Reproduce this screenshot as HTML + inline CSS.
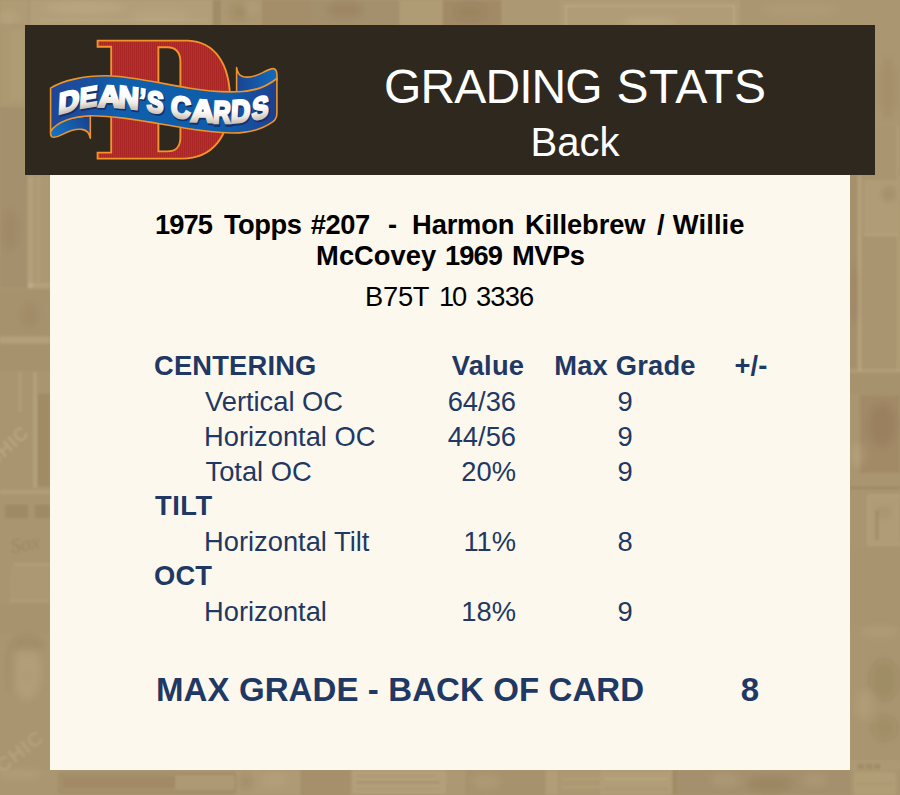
<!DOCTYPE html>
<html>
<head>
<meta charset="utf-8">
<title>Grading Stats</title>
<style>
html,body{margin:0;padding:0;}
body{width:900px;height:795px;position:relative;overflow:hidden;background:#a9946f;font-family:"Liberation Sans",sans-serif;}
#bg{position:absolute;left:0;top:0;width:900px;height:795px;}
#hdr{position:absolute;left:25px;top:25px;width:850px;height:150px;background:#2e281f;}
#panel{position:absolute;left:50px;top:175px;width:800px;height:595px;background:#fdf8ed;}
.t{position:absolute;white-space:nowrap;line-height:1;}
.h1{top:63px;font-size:48px;color:#fff;}
#h2{left:300px;width:550px;text-align:center;top:122px;font-size:40px;color:#fff;}
#title{position:absolute;left:0;top:0;font-weight:bold;font-size:27.3px;color:#000;}
#title span{position:absolute;white-space:nowrap;line-height:32px;}
.sku{top:283px;font-size:27.3px;color:#000;}
.n{color:#1f3864;font-size:27.3px;}
.b{font-weight:bold;letter-spacing:.2px;}
.r{text-align:right;}
.c{text-align:center;}
#max{font-size:33px;font-weight:bold;color:#1f3864;letter-spacing:.1px;}
</style>
</head>
<body>
<svg id="bg" width="900" height="795" viewBox="0 0 900 795" style="position:absolute;left:0;top:0;"><defs><filter id="sb" x="-5%" y="-5%" width="110%" height="110%"><feGaussianBlur stdDeviation="0.8"/></filter><filter id="sb2" x="-5%" y="-5%" width="110%" height="110%"><feGaussianBlur stdDeviation="3.5"/></filter></defs><rect width="900" height="795" fill="#a9956f"/><g filter="url(#sb)"><rect x="0" y="0" width="28" height="24" fill="rgba(255,240,205,0.07)" rx="0"/><rect x="30" y="0" width="182" height="26" fill="rgba(255,240,205,0.1)" rx="0"/><rect x="40" y="19" width="168" height="1.5" fill="rgba(255,240,205,0.1)" rx="0"/><rect x="213" y="0" width="8" height="26" fill="rgba(70,48,12,0.09)" rx="0"/><rect x="221" y="0" width="40" height="26" fill="rgba(255,240,205,0.02)" rx="0"/><rect x="262" y="0" width="48" height="26" fill="rgba(70,48,12,0.05)" rx="0"/><rect x="310" y="0" width="90" height="26" fill="rgba(70,48,12,0.03)" rx="0"/><rect x="400" y="0" width="42" height="26" fill="rgba(255,240,205,0.07)" rx="0"/><rect x="442" y="0" width="60" height="26" fill="rgba(70,48,12,0.07)" rx="0"/><rect x="502" y="0" width="58" height="26" fill="rgba(255,240,205,0.04)" rx="0"/><rect x="560" y="0" width="180" height="26" fill="rgba(255,240,205,0.08)" rx="0"/><rect x="566" y="6" width="168" height="40" fill="none" stroke="rgba(255,240,205,0.14)" stroke-width="2"/><rect x="740" y="0" width="160" height="26" fill="rgba(255,240,205,0.01)" rx="0"/><rect x="0" y="26" width="25" height="80" fill="rgba(255,240,205,0.03)" rx="0"/><rect x="10" y="30" width="14" height="70" fill="rgba(255,240,205,0.04)" rx="0"/><rect x="0" y="106" width="25" height="70" fill="rgba(70,48,12,0.03)" rx="0"/><rect x="0" y="176" width="28" height="112" fill="rgba(70,48,12,0.03)" rx="0"/><rect x="28" y="176" width="5" height="112" fill="rgba(255,240,205,0.13)" rx="0"/><rect x="28" y="283" width="22" height="5" fill="rgba(255,240,205,0.13)" rx="0"/><rect x="33" y="176" width="17" height="107" fill="rgba(255,240,205,0.04)" rx="0"/><rect x="37" y="176" width="3" height="107" fill="rgba(255,240,205,0.06)" rx="0"/><rect x="0" y="290" width="50" height="45" fill="rgba(70,48,12,0.02)" rx="0"/><rect x="0" y="337" width="50" height="6" fill="rgba(255,240,205,0.13)" rx="0"/><rect x="0" y="345" width="50" height="26" fill="rgba(70,48,12,0.02)" rx="0"/><rect x="18" y="372" width="4" height="40" fill="rgba(255,240,205,0.08)" rx="0"/><rect x="33" y="372" width="4" height="116" fill="rgba(255,240,205,0.12)" rx="0"/><rect x="37" y="394" width="13" height="92" fill="rgba(70,48,12,0.1)" rx="0"/><rect x="0" y="490" width="50" height="4" fill="rgba(255,240,205,0.1)" rx="0"/><rect x="5" y="505" width="23" height="13" fill="rgba(70,48,12,0.11)" rx="2"/><rect x="35" y="505" width="15" height="13" fill="rgba(70,48,12,0.11)" rx="2"/><rect x="14" y="563" width="36" height="3" fill="rgba(255,240,205,0.1)" rx="0"/><rect x="10" y="567" width="40" height="33" fill="rgba(255,240,205,0.04)" rx="0"/><rect x="10" y="600" width="40" height="2" fill="rgba(255,240,205,0.09)" rx="0"/><rect x="0" y="604" width="50" height="30" fill="rgba(70,48,12,0.01)" rx="0"/><rect x="875" y="26" width="25" height="100" fill="rgba(255,240,205,0.01)" rx="0"/><rect x="896" y="125" width="3" height="50" fill="rgba(255,240,205,0.08)" rx="0"/><rect x="850" y="176" width="8" height="195" fill="rgba(70,48,12,0.04)" rx="0"/><rect x="858" y="176" width="3.5" height="195" fill="rgba(255,240,205,0.14)" rx="0"/><rect x="864" y="180" width="33" height="55" fill="rgba(255,240,205,0.08)" rx="0"/><rect x="864" y="234" width="34" height="2" fill="rgba(255,240,205,0.12)" rx="0"/><rect x="897" y="176" width="3" height="195" fill="rgba(255,240,205,0.09)" rx="0"/><rect x="850" y="369" width="50" height="3" fill="rgba(255,240,205,0.1)" rx="0"/><rect x="850" y="374" width="50" height="20" fill="rgba(70,48,12,0.02)" rx="0"/><rect x="860" y="395" width="40" height="78" fill="rgba(70,48,12,0.07)" rx="0"/><rect x="850" y="487" width="50" height="1.5" fill="rgba(70,48,12,0.14)" rx="0"/><rect x="868" y="495" width="32" height="50" fill="rgba(255,240,205,0.08)" rx="0"/><rect x="868" y="495" width="40" height="50" fill="none" stroke="rgba(255,240,205,0.1)" stroke-width="1.5"/><rect x="875" y="510" width="4" height="30" fill="rgba(70,48,12,0.12)" rx="0"/><rect x="850" y="546" width="50" height="80" fill="rgba(70,48,12,0.005)" rx="0"/><rect x="850" y="760" width="50" height="10" fill="rgba(255,240,205,0.05)" rx="0"/><rect x="0" y="770" width="55" height="25" fill="rgba(255,240,205,0.01)" rx="0"/><rect x="60" y="774" width="176" height="18" fill="none" stroke="rgba(70,48,12,0.09)" stroke-width="2"/><rect x="62" y="776" width="114" height="13" fill="rgba(70,48,12,0.07)" rx="0"/><rect x="176" y="776" width="58" height="13" fill="rgba(255,240,205,0.05)" rx="0"/><rect x="236" y="770" width="64" height="25" fill="rgba(255,240,205,0.06)" rx="0"/><rect x="300" y="770" width="50" height="25" fill="rgba(70,48,12,0.04)" rx="0"/><rect x="352" y="770" width="94" height="24" fill="rgba(255,240,205,0.12)" rx="0"/><rect x="356" y="775" width="80" height="2" fill="rgba(70,48,12,0.09)" rx="0"/><rect x="356" y="781" width="84" height="3" fill="rgba(70,48,12,0.11)" rx="0"/><rect x="356" y="788" width="84" height="1.5" fill="rgba(70,48,12,0.09)" rx="0"/><rect x="446" y="770" width="18" height="25" fill="rgba(255,240,205,0.04)" rx="0"/><rect x="466" y="770" width="80" height="25" fill="rgba(70,48,12,0.02)" rx="0"/><rect x="546" y="770" width="12" height="25" fill="rgba(255,240,205,0.09)" rx="0"/><rect x="560" y="770" width="40" height="25" fill="rgba(255,240,205,0.03)" rx="0"/><rect x="562" y="778" width="38" height="2" fill="rgba(255,240,205,0.09)" rx="0"/><rect x="562" y="786" width="38" height="2" fill="rgba(255,240,205,0.09)" rx="0"/><rect x="600" y="770" width="72" height="25" fill="rgba(255,240,205,0.09)" rx="0"/><rect x="604" y="778" width="64" height="2" fill="rgba(255,240,205,0.09)" rx="0"/><rect x="604" y="788" width="64" height="2" fill="rgba(70,48,12,0.05)" rx="0"/><rect x="672" y="770" width="4" height="25" fill="rgba(70,48,12,0.11)" rx="0"/><rect x="676" y="770" width="174" height="25" fill="rgba(70,48,12,0.03)" rx="0"/><rect x="854" y="772" width="42" height="23" fill="rgba(255,240,205,0.09)" rx="0"/><rect x="856" y="783" width="38" height="1.5" fill="rgba(70,48,12,0.08)" rx="0"/></g><g filter="url(#sb2)"><ellipse cx="8" cy="18" rx="10" ry="6" fill="rgba(255,240,205,0.08)"/><ellipse cx="85" cy="8" rx="40" ry="6" fill="rgba(255,240,205,0.09)"/><ellipse cx="160" cy="16" rx="30" ry="6" fill="rgba(255,240,205,0.06)"/><ellipse cx="240" cy="12" rx="9" ry="8" fill="rgba(70,48,12,0.1)"/><ellipse cx="252" cy="8" rx="6" ry="6" fill="rgba(255,240,205,0.08)"/><ellipse cx="345" cy="10" rx="18" ry="8" fill="rgba(70,48,12,0.07)"/><ellipse cx="470" cy="12" rx="15" ry="9" fill="rgba(70,48,12,0.08)"/><ellipse cx="650" cy="23" rx="28" ry="6" fill="rgba(255,240,205,0.1)"/><ellipse cx="800" cy="10" rx="40" ry="7" fill="rgba(255,240,205,0.05)"/><ellipse cx="10" cy="230" rx="8" ry="20" fill="rgba(70,48,12,0.05)"/><ellipse cx="30" cy="315" rx="8" ry="12" fill="rgba(70,48,12,0.05)"/><ellipse cx="27" cy="672" rx="14" ry="28" fill="rgba(255,240,205,0.1)"/><ellipse cx="27" cy="645" rx="15" ry="8" fill="rgba(70,48,12,0.1)"/><ellipse cx="12" cy="670" rx="4" ry="22" fill="rgba(70,48,12,0.07)"/><ellipse cx="28" cy="676" rx="5" ry="3" fill="rgba(70,48,12,0.05)"/><ellipse cx="888" cy="88" rx="7" ry="30" fill="rgba(70,48,12,0.06)"/><ellipse cx="854" cy="295" rx="4" ry="30" fill="rgba(70,48,12,0.06)"/><ellipse cx="889" cy="194" rx="5" ry="6" fill="rgba(70,48,12,0.16)"/><ellipse cx="882" cy="425" rx="14" ry="22" fill="rgba(70,48,12,0.07)"/><ellipse cx="858" cy="455" rx="8" ry="12" fill="rgba(255,240,205,0.1)"/><ellipse cx="884" cy="512" rx="6" ry="4" fill="rgba(70,48,12,0.1)"/><ellipse cx="880" cy="632" rx="18" ry="5" fill="rgba(255,240,205,0.08)"/><ellipse cx="884" cy="680" rx="14" ry="20" fill="rgba(70,48,12,0.09)"/><ellipse cx="885" cy="728" rx="12" ry="12" fill="rgba(70,48,12,0.08)"/><ellipse cx="864" cy="705" rx="9" ry="14" fill="rgba(255,240,205,0.08)"/><ellipse cx="20" cy="774" rx="22" ry="4" fill="rgba(255,240,205,0.09)"/><ellipse cx="246" cy="782" rx="5" ry="8" fill="rgba(70,48,12,0.12)"/><ellipse cx="275" cy="780" rx="12" ry="7" fill="rgba(255,240,205,0.06)"/><ellipse cx="486" cy="782" rx="14" ry="8" fill="rgba(255,240,205,0.08)"/><ellipse cx="770" cy="784" rx="22" ry="7" fill="rgba(70,48,12,0.11)"/><ellipse cx="725" cy="780" rx="14" ry="7" fill="rgba(255,240,205,0.08)"/><ellipse cx="815" cy="780" rx="12" ry="7" fill="rgba(255,240,205,0.07)"/></g><g filter="url(#sb)" font-family="Liberation Sans, sans-serif"><text transform="translate(-7,468) rotate(-42)" font-size="19" fill="rgba(255,240,205,0.17)" font-weight="bold" letter-spacing="1">CHIC</text><text transform="translate(12,553) rotate(-10)" font-size="20" fill="rgba(70,48,12,0.09)" font-style="italic" font-family="Liberation Serif, serif">Sox</text><text transform="translate(2,774) rotate(-38)" font-size="21" fill="rgba(255,240,205,0.13)" font-weight="bold" letter-spacing="1">CHIC</text><text transform="translate(858,769) rotate(0)" font-size="8" fill="rgba(70,48,12,0.22)" font-weight="bold">H  N  H</text></g></svg>
<div id="hdr"></div>
<svg id="logo" width="260" height="150" viewBox="35 25 260 150" style="position:absolute;left:35px;top:25px;">
<defs>
<pattern id="pin" width="2" height="8" patternUnits="userSpaceOnUse"><rect width="2" height="8" fill="#bd2d29"/><rect x="0" width="0.8" height="8" fill="#a62423"/></pattern>
<linearGradient id="gband" gradientUnits="userSpaceOnUse" x1="50" y1="0" x2="277" y2="0">
<stop offset="0" stop-color="#1d4796"/><stop offset="0.16" stop-color="#1b4f9e"/><stop offset="0.30" stop-color="#0f5fad"/><stop offset="0.80" stop-color="#0e5caa"/><stop offset="0.93" stop-color="#1b4898"/><stop offset="1" stop-color="#1c3f8b"/></linearGradient>
<linearGradient id="gtail" gradientUnits="userSpaceOnUse" x1="88" y1="116" x2="56" y2="136">
<stop offset="0" stop-color="#1a3f8c"/><stop offset="0.45" stop-color="#155aa8"/><stop offset="1" stop-color="#1470c2"/></linearGradient>
<linearGradient id="gfold" gradientUnits="userSpaceOnUse" x1="237" y1="0" x2="277" y2="0">
<stop offset="0" stop-color="#1b4391"/><stop offset="0.5" stop-color="#1558a8"/><stop offset="1" stop-color="#0f6cbc"/></linearGradient>
<linearGradient id="gtxt" x1="0" y1="0" x2="0" y2="1">
<stop offset="0" stop-color="#ffffff"/><stop offset="0.48" stop-color="#ffffff"/><stop offset="0.68" stop-color="#ebe6df"/><stop offset="0.82" stop-color="#cdc3b7"/><stop offset="1" stop-color="#cdc3b7"/></linearGradient>
</defs>
<path d="M97.6,40.6 L188,40.6 C214,41.5 230,63 230,99.5 C230,137 212,158.6 182,158.6 L97.6,158.6 L97.6,152.6 L111.2,152.6 L111.2,46.8 L97.6,46.8 Z M158.4,47.2 L167,47.2 C176.5,47.2 180.4,52.5 180.4,62 L180.4,137 C180.4,146.8 176.5,151.4 167,151.4 L158.4,151.4 Z" fill="url(#pin)" fill-rule="evenodd" stroke="#f5922a" stroke-width="1.9" stroke-linejoin="miter"/>
<path d="M90.3,115.5 L90.3,138.2 C89.5,133 86.5,130.2 82,129.4 C75,128.4 68,131.5 62,134.6 C58,136.7 54,138.2 51.6,136.6 C50.4,135.5 50.4,133.5 50.6,131 C52,126 58,120.5 74,117.6 Z" fill="url(#gtail)" stroke="#ee9428" stroke-width="1.6" stroke-linejoin="round"/>
<path d="M236.6,67.6 C237.4,72.5 239,75 242,76.2 C247,78.2 254,77 262.7,72.6 C267,70.3 271,68.4 273.5,68.6 C275.6,68.9 276.8,70.5 277,75 L277,80 L262,88 L236.6,93 Z" fill="url(#gfold)" stroke="#ee9428" stroke-width="1.6" stroke-linejoin="round"/>
<path d="M50.6,88.2 C62,80.5 84,75.8 106,75.8 C128,75.8 156,82.5 190,88.3 C206,91 222,92.3 236.6,91.8 C252,92 266,87.2 276.9,78.5 L276.9,113 C276.9,117 275.5,119.8 273,121.6 C262,129.5 248,133.2 232,133 C215,132.7 200,130.6 184,128 C150,122.4 118,115.6 90,115.7 C74,116.2 57,121.5 50.6,131.5 Z" fill="url(#gband)" stroke="#ee9428" stroke-width="1.6" stroke-linejoin="round"/>
<g font-family="Liberation Sans, sans-serif" font-weight="bold" font-size="30" fill="#13316f" stroke="#13316f" stroke-width="3.2" stroke-linejoin="miter" stroke-miterlimit="3"><text transform="translate(1.1,1.5) matrix(0.9620,-0.2694,-0.0487,0.9739,58.069,114.241)">D</text><text transform="translate(1.1,1.5) matrix(0.8793,-0.1495,-0.0468,0.9351,79.335,108.300)">E</text><text transform="translate(1.1,1.5) matrix(1.0334,0.0310,-0.0499,0.9981,97.928,106.477)">A</text><text transform="translate(1.1,1.5) matrix(0.9412,0.1224,-0.0501,1.0029,118.011,106.754)">N</text><text transform="translate(1.1,1.5) matrix(0.7038,0.1408,-0.0496,0.9921,139.263,109.490)">’</text><text transform="translate(1.1,1.5) matrix(0.8290,0.1243,-0.0487,0.9746,146.598,111.107)">S</text><text transform="translate(1.1,1.5) matrix(0.9075,0.1089,-0.0497,0.9934,170.498,116.475)">C</text><text transform="translate(1.1,1.5) matrix(1.0782,0.0431,-0.0518,1.0368,190.495,121.268)">A</text><text transform="translate(1.1,1.5) matrix(0.8034,0.0000,-0.0516,1.0320,212.688,123.000)">R</text><text transform="translate(1.1,1.5) matrix(0.8914,-0.0713,-0.0523,1.0465,230.511,122.843)">D</text><text transform="translate(1.1,1.5) matrix(0.8290,-0.1824,-0.0516,1.0311,251.599,120.256)">S</text></g>
<g font-family="Liberation Sans, sans-serif" font-weight="bold" font-size="30" fill="url(#gtxt)" stroke="url(#gtxt)" stroke-width="2.6" stroke-linejoin="miter" stroke-miterlimit="3"><text transform="matrix(0.9620,-0.2694,-0.0487,0.9739,58.069,114.241)">D</text><text transform="matrix(0.8793,-0.1495,-0.0468,0.9351,79.335,108.300)">E</text><text transform="matrix(1.0334,0.0310,-0.0499,0.9981,97.928,106.477)">A</text><text transform="matrix(0.9412,0.1224,-0.0501,1.0029,118.011,106.754)">N</text><text transform="matrix(0.7038,0.1408,-0.0496,0.9921,139.263,109.490)">’</text><text transform="matrix(0.8290,0.1243,-0.0487,0.9746,146.598,111.107)">S</text><text transform="matrix(0.9075,0.1089,-0.0497,0.9934,170.498,116.475)">C</text><text transform="matrix(1.0782,0.0431,-0.0518,1.0368,190.495,121.268)">A</text><text transform="matrix(0.8034,0.0000,-0.0516,1.0320,212.688,123.000)">R</text><text transform="matrix(0.8914,-0.0713,-0.0523,1.0465,230.511,122.843)">D</text><text transform="matrix(0.8290,-0.1824,-0.0516,1.0311,251.599,120.256)">S</text></g>
</svg>
<div id="panel"></div>
<div class="t h1" style="left:384.1px;letter-spacing:-.9px">GRADING</div><div class="t h1" style="left:616.49px;letter-spacing:.52px">STATS</div>
<div class="t" id="h2">Back</div>
<div id="title"><span style="top:209px;left:155.00px;letter-spacing:-0.96px">1975</span><span style="top:209px;left:223.90px;letter-spacing:-0.45px">Topps</span><span style="top:209px;left:310.78px;letter-spacing:-0.42px">#207</span><span style="top:209px;left:388.02px;letter-spacing:0.00px">-</span><span style="top:209px;left:412.12px;letter-spacing:-0.18px">Harmon</span><span style="top:209px;left:525.00px;letter-spacing:-0.11px">Killebrew</span><span style="top:209px;left:657.02px;letter-spacing:0.00px">/</span><span style="top:209px;left:672.78px;letter-spacing:0.14px">Willie</span><span style="top:240px;left:316.12px;letter-spacing:0.03px">McCovey</span><span style="top:240px;left:444.98px;letter-spacing:-0.90px">1969</span><span style="top:240px;left:512.12px;letter-spacing:-0.54px">MVPs</span></div>
<div class="t sku" style="left:365.1px;letter-spacing:-.3px">B75T</div><div class="t sku" style="left:438.88px;letter-spacing:-2.07px">10</div><div class="t sku" style="left:476px;letter-spacing:-.84px">3336</div>

<div class="t n b" style="left:154px;top:352px;">CENTERING</div>
<div class="t n b c" style="left:438px;width:100px;top:352px;">Value</div>
<div class="t n b c" style="left:545px;width:160px;top:352px;">Max Grade</div>
<div class="t n b c" style="left:711px;width:80px;top:352px;">+/-</div>

<div class="t n" style="left:205px;top:388px;">Vertical OC</div>
<div class="t n r" style="left:416px;width:100px;top:388px;">64/36</div>
<div class="t n c" style="left:585px;width:80px;top:388px;">9</div>

<div class="t n" style="left:204px;top:423px;">Horizontal OC</div>
<div class="t n r" style="left:416px;width:100px;top:423px;">44/56</div>
<div class="t n c" style="left:585px;width:80px;top:423px;">9</div>

<div class="t n" style="left:205.5px;top:458px;">Total OC</div>
<div class="t n r" style="left:416px;width:100px;top:458px;">20%</div>
<div class="t n c" style="left:585px;width:80px;top:458px;">9</div>

<div class="t n b" style="left:155px;top:492px;letter-spacing:.5px">TILT</div>

<div class="t n" style="left:204px;top:528px;">Horizontal Tilt</div>
<div class="t n r" style="left:416px;width:100px;top:528px;">11%</div>
<div class="t n c" style="left:585px;width:80px;top:528px;">8</div>

<div class="t n b" style="left:154px;top:562px;">OCT</div>

<div class="t n" style="left:204px;top:598px;">Horizontal</div>
<div class="t n r" style="left:416px;width:100px;top:598px;">18%</div>
<div class="t n c" style="left:585px;width:80px;top:598px;">9</div>

<div class="t" id="max" style="left:156px;top:673px;">MAX GRADE - BACK OF CARD</div>
<div class="t c" id="max8" style="left:710px;width:80px;top:673px;font-size:33px;font-weight:bold;color:#1f3864;">8</div>
</body>
</html>
